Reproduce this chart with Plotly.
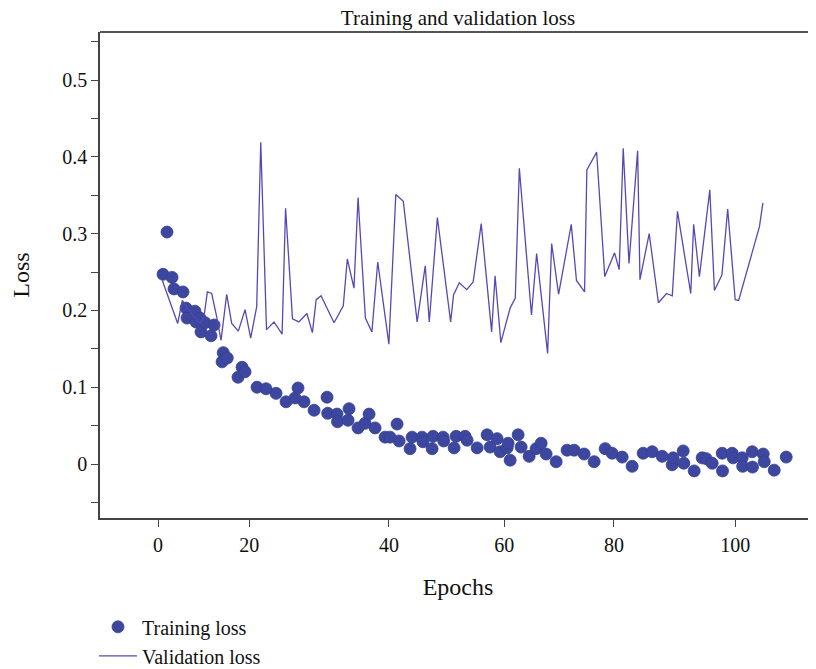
import plotly.graph_objects as go

# ---- data ----
train_epoch = [0.87, 1.56, 2.43, 2.77, 4.33, 4.85, 5.03, 6.41, 6.59, 7.28, 7.45, 8.15, 9.19, 9.71,
               11.1, 11.3, 12.0, 13.86, 14.56, 15.08, 17.16, 18.72, 20.45, 22.18, 23.74, 24.26,
               25.3, 27.04, 29.29, 29.4, 31.02, 31.1, 32.93, 33.1, 34.66, 35.88, 36.57, 37.61,
               39.34, 40.21, 41.42, 41.77, 43.67, 44.02, 45.75, 45.9, 47.49, 47.66, 49.39, 49.5,
               51.3, 51.65, 53.21, 53.55, 55.29, 57.02, 57.54, 58.75, 59.27, 60.49, 60.66, 61.01,
               62.39, 62.91, 64.3, 65.51, 66.38, 67.24, 68.98, 70.88, 72.1, 73.83, 75.56, 77.47,
               78.68, 80.42, 82.15, 84.06, 85.62, 87.35, 89.08, 89.25, 90.99, 91.1, 92.89, 94.28,
               94.97, 96.01, 97.75, 97.8, 99.48, 99.65, 101.21, 101.3, 102.95, 103.0, 104.85,
               105.03, 106.76, 108.84]
train_loss = [0.247, 0.302, 0.243, 0.228, 0.224, 0.203, 0.190, 0.199, 0.185, 0.190, 0.172, 0.184,
              0.167, 0.181, 0.133, 0.145, 0.138, 0.113, 0.126, 0.120, 0.100, 0.098, 0.092, 0.081,
              0.086, 0.099, 0.081, 0.070, 0.087, 0.066, 0.065, 0.055, 0.057, 0.072, 0.047, 0.053,
              0.065, 0.047, 0.035, 0.035, 0.052, 0.030, 0.020, 0.035, 0.035, 0.029, 0.020, 0.036,
              0.035, 0.030, 0.021, 0.036, 0.036, 0.031, 0.021, 0.038, 0.022, 0.033, 0.016, 0.021,
              0.027, 0.005, 0.038, 0.022, 0.010, 0.020, 0.027, 0.013, 0.003, 0.018, 0.018, 0.013,
              0.003, 0.020, 0.014, 0.009, -0.003, 0.014, 0.016, 0.010, -0.001, 0.008, 0.017, 0.001,
              -0.009, 0.008, 0.007, 0.001, 0.014, -0.009, 0.014, 0.008, 0.008, -0.003, 0.016,
              -0.004, 0.013, 0.003, -0.008, 0.009]

val_epoch = [0.75, 3.41, 4.21, 6.12, 7.28, 7.97, 8.55, 9.3, 10.16, 10.92, 11.9, 12.77, 13.92,
             15.08, 16.06, 17.1, 17.8, 18.8, 20.1, 21.5, 22.1, 23.3, 24.4, 25.8, 26.75, 27.4,
             28.25, 30.5, 32.1, 32.8, 33.95, 34.66, 35.93, 37.06, 38.07, 40.0, 41.2, 42.5, 44.9,
             46.3, 47.0, 48.4, 50.7, 51.2, 52.2, 53.5, 54.6, 56.0, 57.8, 58.4, 59.4, 61.0, 61.9,
             62.6, 64.7, 65.6, 67.5, 68.2, 69.4, 71.6, 72.5, 73.9, 74.3, 76.0, 77.4, 79.1, 79.9,
             80.6, 81.6, 83.1, 83.5, 85.1, 86.7, 88.1, 89.1, 90.0, 92.3, 92.8, 93.8, 95.6, 96.4,
             97.7, 98.7, 100.0, 100.6, 104.2, 104.8]
val_loss = [0.239, 0.183, 0.213, 0.192, 0.183, 0.192, 0.224, 0.222, 0.192, 0.161, 0.221, 0.183,
            0.173, 0.201, 0.164, 0.205, 0.419, 0.175, 0.185, 0.169, 0.333, 0.189, 0.185, 0.196,
            0.171, 0.214, 0.219, 0.184, 0.206, 0.267, 0.229, 0.347, 0.190, 0.172, 0.263, 0.156,
            0.351, 0.342, 0.185, 0.258, 0.185, 0.321, 0.185, 0.220, 0.236, 0.227, 0.237, 0.313,
            0.172, 0.245, 0.158, 0.203, 0.216, 0.385, 0.194, 0.274, 0.144, 0.287, 0.221, 0.312,
            0.239, 0.224, 0.383, 0.406, 0.244, 0.275, 0.253, 0.411, 0.261, 0.408, 0.240, 0.300,
            0.210, 0.222, 0.219, 0.329, 0.222, 0.312, 0.244, 0.357, 0.226, 0.246, 0.332, 0.214,
            0.213, 0.309, 0.340]

x_tick_pos = [0, 15.8, 40, 60, 79, 100]
x_tick_text = ["0", "20", "40", "60", "80", "100"]
y_tick_pos = [-0.05, 0, 0.05, 0.1, 0.15, 0.2, 0.25, 0.3, 0.35, 0.4, 0.45, 0.5, 0.55]
y_tick_text = ["", "0", "", "0.1", "", "0.2", "", "0.3", "", "0.4", "", "0.5", ""]

FONT = "Liberation Serif, Times New Roman, serif"
AX = "#444444"

fig = go.Figure()
fig.add_trace(go.Scatter(
    x=train_epoch, y=train_loss, mode="markers", name="Training loss",
    marker=dict(size=12, color="#3D47A0", line=dict(color="#33408F", width=0.8)),
))
fig.add_trace(go.Scatter(
    x=val_epoch, y=val_loss, mode="lines", name="Validation loss",
    line=dict(color="#5848B2", width=1.3),
))

# the page adds an 8 px body margin, so the figure is sized 808x661
fig.update_layout(
    width=808, height=661,
    paper_bgcolor="white", plot_bgcolor="white",
    margin=dict(l=92, r=0, t=24, b=151, autoexpand=False),
    font=dict(family=FONT, size=20, color="#111111"),
    title=dict(text="Training and validation loss", x=0.5, xref="paper", xanchor="center",
               y=1 - 2 / 661, yref="container", yanchor="top", font=dict(size=21)),
    showlegend=True,
    legend=dict(x=-0.0084, y=-0.1838, xanchor="left", yanchor="top", orientation="v",
                font=dict(size=20), bgcolor="rgba(0,0,0,0)", itemwidth=38,
                tracegroupgap=0),
    xaxis=dict(range=[-10.05, 114.0], tickmode="array", tickvals=x_tick_pos, ticktext=x_tick_text,
               showline=True, linecolor=AX, linewidth=1.6, ticks="outside", ticklen=7,
               tickcolor=AX, tickwidth=1.4, showgrid=False, zeroline=False, automargin=False,
               title=dict(text="Epochs", standoff=23), ticklabelstandoff=1),
    yaxis=dict(range=[-0.0703, 0.5625], tickmode="array", tickvals=y_tick_pos, ticktext=y_tick_text,
               showline=True, linecolor=AX, linewidth=1.6, ticks="outside", ticklen=7,
               tickcolor=AX, tickwidth=1.4, showgrid=False, zeroline=False, automargin=False,
               title=dict(text="Loss", standoff=33), ticklabelstandoff=0),
    shapes=[dict(type="line", xref="paper", yref="paper", x0=0, x1=1, y0=1, y1=1,
                 line=dict(color="#555555", width=2))],
)

fig.write_html("out.html")
